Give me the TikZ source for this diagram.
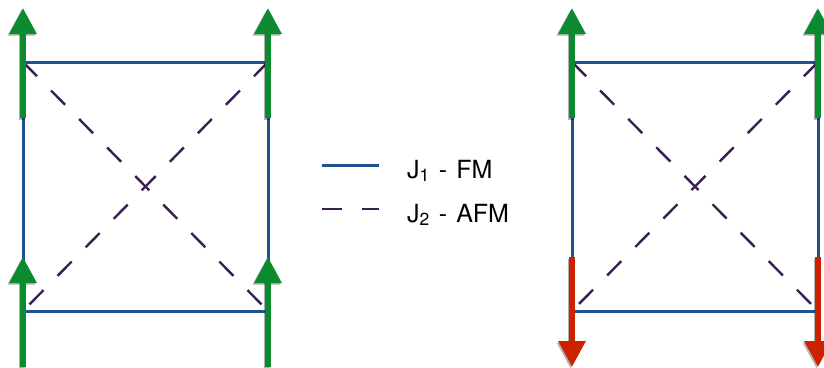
\documentclass[tikz,border=0pt]{standalone}
\usepackage{fontspec}
\setmainfont{TeX Gyre Heros}
\usepackage{xcolor}
\definecolor{bondBlue}  {HTML}{1F5290}
\definecolor{bondPurple}{HTML}{3A2052}
\definecolor{spinUp}    {HTML}{0B8A30}
\definecolor{spinDown}  {HTML}{CC2200}
\usetikzlibrary{arrows.meta, positioning, calc}
\newcommand{\legendfont}{\fontsize{25}{28}\selectfont\spaceskip=9pt\relax}
\tikzset{
    jone/.style={-, line width=3pt, bondBlue},
    jtwo/.style={-, line width=2.4pt, bondPurple, dash pattern=on 20pt off 20pt},
    spin/.style={-{Triangle[width=26pt, length=26pt]}, line width=6pt},
    spinshade/.style={spin, black, opacity=0.3, transform canvas={shift={(-1.5pt,-1.5pt)}}},
    up/.style={spin, spinUp},
    down/.style={spin, spinDown},
    legendtext/.style={anchor=base west, inner sep=0pt, font=\legendfont},
}
\begin{document}
\begin{tikzpicture}[x=1pt, y=-1pt]
    \useasboundingbox (0,0) rectangle (824,367);
    % ferromagnetic plaquette
    \coordinate (a1) at (23,62);
    \coordinate (a2) at (268,62);
    \coordinate (a3) at (268,311);
    \coordinate (a4) at (23,311);
    % stripe plaquette
    \coordinate (b1) at (572,62);
    \coordinate (b2) at (818,62);
    \coordinate (b3) at (818,311);
    \coordinate (b4) at (572,311);
    \foreach \p in {a,b} {
        \draw[jtwo] (\p1) -- (\p3);
        \draw[jtwo] (\p2) -- (\p4);
        \draw[jone] (\p1) -- (\p2) -- (\p3) -- (\p4) -- cycle;
    }
    % spins
    \foreach \p/\x in {a1/23, a2/268, b1/572, b2/818} {
        \coordinate (\p s) at (\x,118);
        \coordinate (\p t) at (\x,8);
        \draw[spinshade] (\p s) -- (\p t);
        \draw[up] (\p s) -- (\p t);
    }
    \foreach \p/\x in {a4/23, a3/268} {
        \coordinate (\p s) at (\x,367);
        \coordinate (\p t) at (\x,257);
        \draw[spinshade] (\p s) -- (\p t);
        \draw[up] (\p s) -- (\p t);
    }
    \foreach \p/\x in {b4/572, b3/818} {
        \coordinate (\p s) at (\x,257);
        \coordinate (\p t) at (\x,367);
        \draw[spinshade] (\p s) -- (\p t);
        \draw[down] (\p s) -- (\p t);
    }
    % legend
    \coordinate (l1a) at (322,165);
    \coordinate (l1b) at (379,165);
    \coordinate (l2a) at (322,209);
    \coordinate (l2b) at (379,209);
    \draw[jone] (l1a) -- (l1b);
    \draw[jtwo] (l2a) -- (l2b);
    \node[legendtext] (fm)  at (407,178) {J\textsubscript{1} - FM};
    \node[legendtext] (afm) at (407,222) {J\textsubscript{2} - AFM};
\end{tikzpicture}
\end{document}
